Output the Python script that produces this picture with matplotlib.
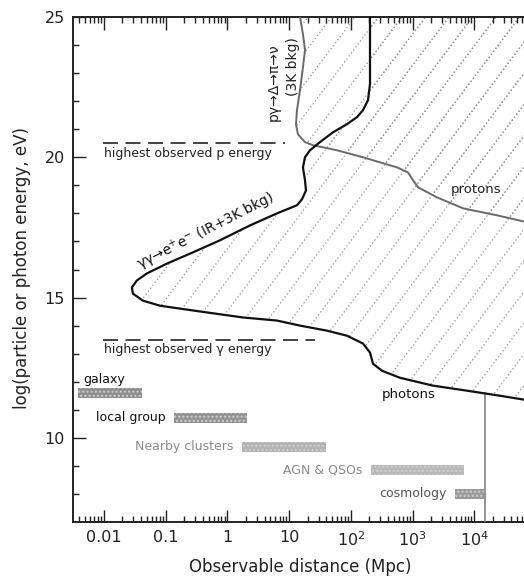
import numpy as np
import matplotlib
matplotlib.use("Agg")
import matplotlib.pyplot as plt
from matplotlib.collections import LineCollection
from matplotlib.ticker import FixedLocator, FixedFormatter, NullFormatter

# ---------------- data ----------------
# photon horizon curve: log10(distance / Mpc), log10(E / eV)
photon_logd = [2.311, 2.311, 2.279, 2.198, 2.100, 1.938, 1.711, 1.501, 1.339, 1.258,
               1.225, 1.258, 1.274, 1.209, 1.128, 0.804, 0.366, -0.120, -0.558, -0.979,
               -1.303, -1.465, -1.546, -1.530, -1.368, -1.092, -0.558, 0.253, 0.804,
               1.177, 1.614, 1.938, 2.198, 2.311, 2.360, 2.506, 2.797, 3.332, 3.883,
               4.418, 4.807, 5.0]
photon_E = [25.0, 22.61, 22.04, 21.68, 21.43, 21.18, 20.89, 20.54, 20.25, 20.0,
            19.64, 19.18, 18.82, 18.5, 18.29, 18.0, 17.57, 17.04, 16.61, 16.21,
            15.86, 15.61, 15.36, 15.14, 14.89, 14.71, 14.54, 14.29, 14.18,
            14.0, 13.82, 13.64, 13.36, 13.04, 12.64, 12.39, 12.14, 11.86, 11.68,
            11.5, 11.36, 11.29]

# proton horizon curve
proton_logd = [1.177, 1.225, 1.258, 1.225, 1.177, 1.128, 1.112, 1.144, 1.258, 1.387,
               1.776, 2.198, 2.749, 2.927, 3.008, 3.089, 3.397, 3.819, 4.370, 4.807, 5.0]
proton_E = [25.0, 24.39, 23.82, 23.21, 22.39, 21.68, 21.18, 20.82, 20.54, 20.43,
            20.25, 20.0, 19.64, 19.46, 19.18, 18.93, 18.57, 18.18, 17.93, 17.71, 17.64]

# scale bars
bar_names = ["galaxy", "local group", "Nearby clusters", "AGN & QSOs", "cosmology"]
bar_logd_lo = [-2.42, -0.87, 0.24, 2.33, 3.69]
bar_logd_hi = [-1.38, 0.32, 1.60, 3.83, 4.16]
bar_E = [11.61, 10.71, 9.68, 8.86, 8.0]

# observed maxima
highest_p_E = 20.5
highest_p_logd = [-2.02, 0.93]
highest_g_E = 13.5
highest_g_logd = [-2.02, 1.42]

# Hubble radius
hubble_logd = 4.175

xlim_logd = (-2.5, 5.0)
ylim_E = (7, 25)
xtick_logd = [-2, -1, 0, 1, 2, 3, 4, 5]
xtick_labels = ["0.01", "0.1", "1", "10", "10$^2$", "10$^3$", "10$^4$", ""]

# ---------------- figure ----------------
W, H = 524, 580
fig = plt.figure(figsize=(W / 100, H / 100), dpi=100)
ax = fig.add_axes([73 / W, 58 / H, 463 / W, 505 / H])
ax.set_xscale("log")
ax.set_xlim(10 ** xlim_logd[0], 10 ** xlim_logd[1])
ax.set_ylim(*ylim_E)

pd_ = 10 ** np.array(photon_logd)
prd = 10 ** np.array(proton_logd)
xr = 10 ** xlim_logd[1]
ytop = ylim_E[1]

# hatched regions (right of the curves)
polyA = ax.fill(np.r_[pd_, xr, xr], np.r_[photon_E, photon_E[-1], ytop],
                facecolor="none", edgecolor="none")[0]
polyB = ax.fill(np.r_[prd, xr, xr], np.r_[proton_E, proton_E[-1], ytop],
                facecolor="none", edgecolor="none")[0]

# steep dotted hatch lines in axes coordinates
axw, axh = 463.0, 505.0
ang = np.deg2rad(53)
run = axh / np.tan(ang)
segs = []
for x0 in np.arange(-run, axw + 24, 23.5):
    segs.append([(x0 / axw, 0.0), ((x0 + run) / axw, 1.0)])
for clip in (polyA, polyB):
    lc = LineCollection(segs, colors="#909090", linewidths=0.9, linestyles=(0, (1, 2)),
                        transform=ax.transAxes, zorder=1)
    ax.add_collection(lc)
    lc.set_clip_path(clip)

# curves
ax.plot(prd, proton_E, color="#6a6a6a", lw=1.4, zorder=3, solid_joinstyle="round")
ax.plot(pd_, photon_E, color="#111111", lw=1.6, zorder=4, solid_joinstyle="round")

# hubble line
tail_d = np.array(photon_logd[-10:])
tail_E = np.array(photon_E[-10:])
E_h = np.interp(hubble_logd, tail_d, tail_E)
ax.plot([10 ** hubble_logd] * 2, [ylim_E[0], E_h], color="#777777", lw=1.1, zorder=3)

# dashed observed-energy lines
ax.plot(10 ** np.array(highest_p_logd), [highest_p_E] * 2, color="#222222", lw=1.2,
        dashes=(9, 4.5))
ax.plot(10 ** np.array(highest_g_logd), [highest_g_E] * 2, color="#222222", lw=1.2,
        dashes=(9, 4.5))
ax.text(10 ** -1.99, highest_p_E - 0.12, "highest observed p energy", fontsize=9,
        va="top", ha="left", color="#222222")
ax.text(10 ** -1.99, highest_g_E - 0.12, "highest observed γ energy", fontsize=9,
        va="top", ha="left", color="#222222")

# bars
bar_face = ["#8e8e8e", "#939393", "#b3b3b3", "#b8b8b8", "#9a9a9a"]
txt_col = ["#111111", "#111111", "#8a8a8a", "#8a8a8a", "#555555"]
lo = 10 ** np.array(bar_logd_lo)
hi = 10 ** np.array(bar_logd_hi)
ax.barh(bar_E, hi - lo, left=lo, height=0.36, color=bar_face, edgecolor="#cfcfcf",
        hatch="....", linewidth=0, zorder=2)
for i, name in enumerate(bar_names):
    if i == 0:
        ax.text(10 ** (bar_logd_lo[0] + 0.08), bar_E[0] + 0.46, name, fontsize=9,
                ha="left", va="center", color=txt_col[0])
    else:
        ax.annotate(name, (lo[i], bar_E[i]), xytext=(-6, 0), textcoords="offset points",
                    fontsize=9, ha="right", va="center", color=txt_col[i])

# curve labels
ax.text(10 ** 2.93, 11.54, "photons", fontsize=9.5, ha="center", va="center", color="#111111")
ax.text(10 ** 4.03, 18.86, "protons", fontsize=9.5, ha="center", va="center", color="#222222")
ax.text(10 ** -0.34, 17.36, "γγ→e$^{+}$e$^{-}$ (IR+3K bkg)",
        fontsize=10, ha="center", va="center", rotation=27, color="#111111")
ax.text(10 ** 0.75, 22.68, "pγ→Δ→π→ν",
        fontsize=10, ha="center", va="center", rotation=90, color="#222222")
ax.text(10 ** 1.07, 23.25, "(3K bkg)", fontsize=10, ha="center", va="center",
        rotation=90, color="#222222")

# axes styling
ax.xaxis.set_major_locator(FixedLocator([10.0 ** k for k in xtick_logd]))
ax.xaxis.set_major_formatter(FixedFormatter(xtick_labels))
minors = [m * 10.0 ** k for k in range(-3, 6) for m in range(2, 10)]
ax.xaxis.set_minor_locator(FixedLocator(minors))
ax.xaxis.set_minor_formatter(NullFormatter())
ax.set_yticks([10, 15, 20, 25])
ax.set_yticks(np.arange(8, 26, 1), minor=True)
ax.tick_params(which="both", direction="in", top=True, right=True, width=1.0,
               labelsize=11.5, colors="#222222")
ax.tick_params(which="major", length=9, pad=6)
ax.tick_params(which="minor", length=4.5)
for s in ax.spines.values():
    s.set_linewidth(1.4)
    s.set_color("#222222")

fig.text(300 / W, 1 - 567 / H, "Observable distance (Mpc)", fontsize=12, ha="center",
         va="center", color="#222222")
fig.text(22 / W, 1 - 268 / H, "log(particle or photon energy, eV)", fontsize=12,
         ha="center", va="center", rotation=90, color="#222222")

fig.savefig("out.png", dpi=100)
